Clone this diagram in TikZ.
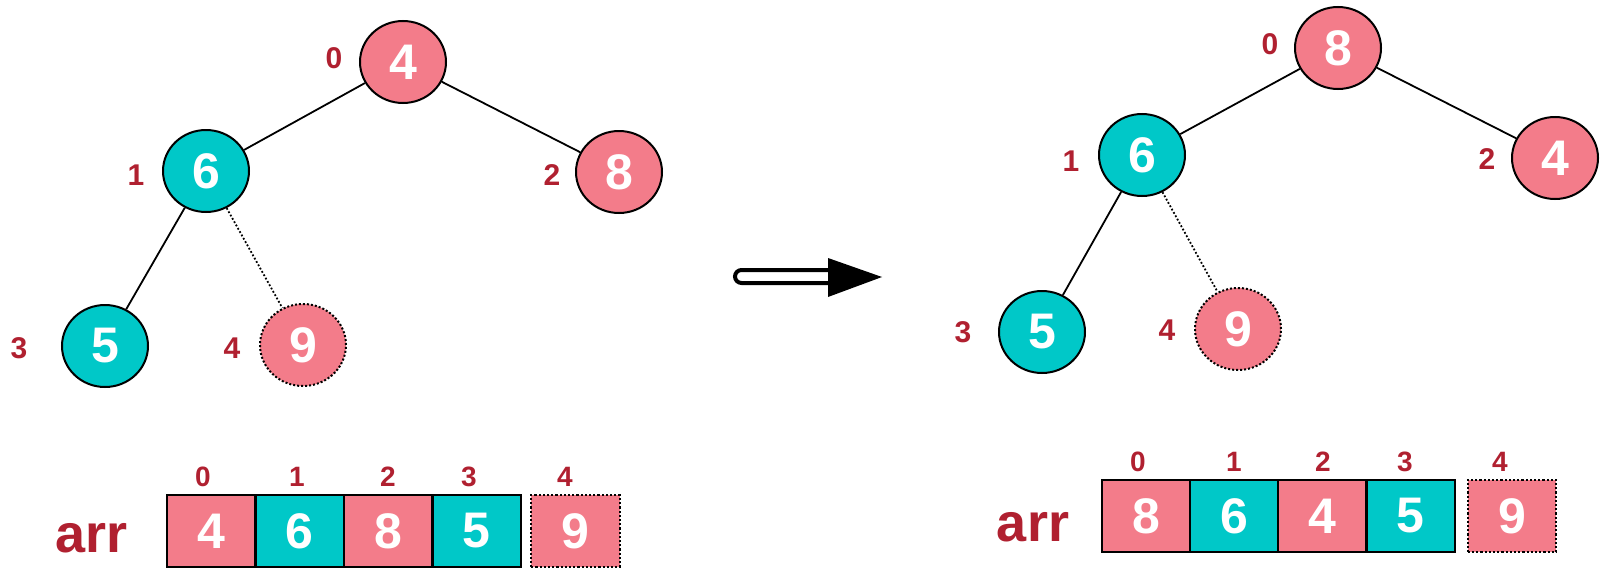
\documentclass[tikz,border=0pt]{standalone}
\usepackage{fontspec}
\setmainfont{Liberation Sans}
\usetikzlibrary{positioning, shapes.geometric}
\definecolor{heappink}{RGB}{243,124,138}
\definecolor{heapteal}{RGB}{0,200,200}
\definecolor{idxred}{RGB}{176,32,48}
\tikzset{
  hnode/.style={ellipse, draw=black, line width=1pt, minimum width=43pt, minimum height=41pt,
    inner sep=0pt, text=white, font=\fontsize{25}{25}\selectfont\bfseries},
  pinknode/.style={hnode, fill=heappink},
  tealnode/.style={hnode, fill=heapteal},
  newnode/.style={hnode, fill=heappink, densely dotted},
  idx/.style={text=idxred, font=\fontsize{15}{15}\selectfont\bfseries},
  cellidx/.style={text=idxred, font=\fontsize{14}{14}\selectfont\bfseries},
  cell/.style={draw=black, line width=1.1pt, minimum width=44.25pt, minimum height=36pt,
    inner sep=0pt, text=white, font=\fontsize{25}{25}\selectfont\bfseries},
  arrname/.style={text=idxred, font=\fontsize{27}{27}\selectfont\bfseries},
  edge/.style={line width=0.9pt},
}

\begin{document}
\begin{tikzpicture}[x=0.5pt, y=-0.5pt]
\useasboundingbox (0,0) rectangle (1602,578);

% heap before
\node[pinknode] (a0) at (403,62) {4};
\node[tealnode] (a1) at (206,171) {6};
\node[pinknode] (a2) at (619,172) {8};
\node[tealnode] (a3) at (105,346) {5};
\node[newnode]  (a4) at (303,345) {9};
\draw[edge] (a0) -- (a1);
\draw[edge] (a0) -- (a2);
\draw[edge] (a1) -- (a3);
\draw[edge, densely dotted] (a1) -- (a4);
\node[idx] (ai0) at (334,58) {0};
\node[idx] (ai1) at (136,175) {1};
\node[idx] (ai2) at (552,175) {2};
\node[idx] (ai3) at (19,348) {3};
\node[idx] (ai4) at (232,348) {4};

% array before
\node[arrname] (aname) at (92,538) {arr};
\foreach \v/\c [count=\i from 0] in {4/heappink,6/heapteal,8/heappink,5/heapteal}
  \node[cell, fill=\c] (ac\i) at ({211.25+88.5*\i},531) {\v};
\node[cell, fill=heappink, densely dotted] (ac4) at (575.5,531) {9};
\foreach \x [count=\i from 0] in {203,297,388,469,565}
  \node[cellidx] (al\i) at (\x,477) {\i};

% step arrow
\draw[line width=2pt, rounded corners=3.25pt, fill=white]
  (828,270) -- (735,270) -- (735,283) -- (828,283);
\fill (828,258) -- (882,277) -- (828,297) -- cycle;

% heap after
\node[pinknode] (b0) at (1338,48) {8};
\node[tealnode] (b1) at (1142,155) {6};
\node[pinknode] (b2) at (1555,158) {4};
\node[tealnode] (b3) at (1042,332) {5};
\node[newnode]  (b4) at (1238,329) {9};
\draw[edge] (b0) -- (b1);
\draw[edge] (b0) -- (b2);
\draw[edge] (b1) -- (b3);
\draw[edge, densely dotted] (b1) -- (b4);
\node[idx] (bi0) at (1270,44) {0};
\node[idx] (bi1) at (1071,161) {1};
\node[idx] (bi2) at (1487,159) {2};
\node[idx] (bi3) at (963,332) {3};
\node[idx] (bi4) at (1167,330) {4};

% array after
\node[arrname] (bname) at (1033,527) {arr};
\foreach \v/\c [count=\i from 0] in {8/heappink,6/heapteal,4/heappink,5/heapteal}
  \node[cell, fill=\c] (bc\i) at ({1146+88.25*\i},516) {\v};
\node[cell, fill=heappink, densely dotted] (bc4) at (1512,516) {9};
\foreach \x [count=\i from 0] in {1138,1234,1323,1405,1500}
  \node[cellidx] (bl\i) at (\x,462) {\i};
\end{tikzpicture}
\end{document}
